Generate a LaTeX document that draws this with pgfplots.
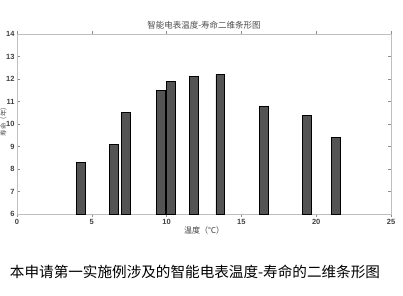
\documentclass[border=0pt]{standalone}
\usepackage{fontspec}
\setmainfont{Liberation Sans}
\newfontfamily\cjk{Noto Sans CJK SC}
\usepackage{pgfplots}
\pgfplotsset{compat=1.18}
\begin{document}
\begin{tikzpicture}
\useasboundingbox (-17pt,-81pt) rectangle (386pt,214pt);
\begin{axis}[
  at={(0pt,0pt)}, anchor=south west,
  scale only axis, width=374pt, height=180pt,
  xmin=0, xmax=25, ymin=6, ymax=14,
  xtick={0,5,...,25}, ytick={6,7,...,14},
  tick align=inside, major tick length=3pt,
  axis line style={black!25, line width=0.8pt},
  tick style={black!45, line width=0.5pt},
  ticklabel style={font=\bfseries\fontsize{7.5}{8}\selectfont, text=black!75},
  /pgf/number format/assume math mode=true,
  xticklabel style={yshift=1pt},
  yticklabel style={xshift=1pt},
  title={\cjk\fontsize{8.5}{9}\selectfont 智能电表温度-寿命二维条形图},
  title style={text=black!70, yshift=-5pt},
  xlabel={\cjk\fontsize{8}{9}\selectfont 温度（℃）},
  xlabel style={text=black!75, yshift=5pt},
  ybar, bar width=0.6, bar shift=0,
]
\addplot[fill=black!67, draw=black, line width=0.9pt] coordinates {
 (4.3,8.3) (6.5,9.1) (7.3,10.5) (9.6,11.5) (10.3,11.9)
 (11.8,12.1) (13.6,12.2) (16.5,10.8) (19.4,10.4) (21.3,9.4)
};
\end{axis}
\node[rotate=90, font=\cjk\fontsize{6.5}{7}\selectfont, text=black!70] at (-13.5pt,94pt) {寿命（年）};
\node[font=\cjk\fontsize{14.6}{16}\selectfont] at (178pt,-58pt) {本申请第一实施例涉及的智能电表温度-寿命的二维条形图};
\end{tikzpicture}
\end{document}
